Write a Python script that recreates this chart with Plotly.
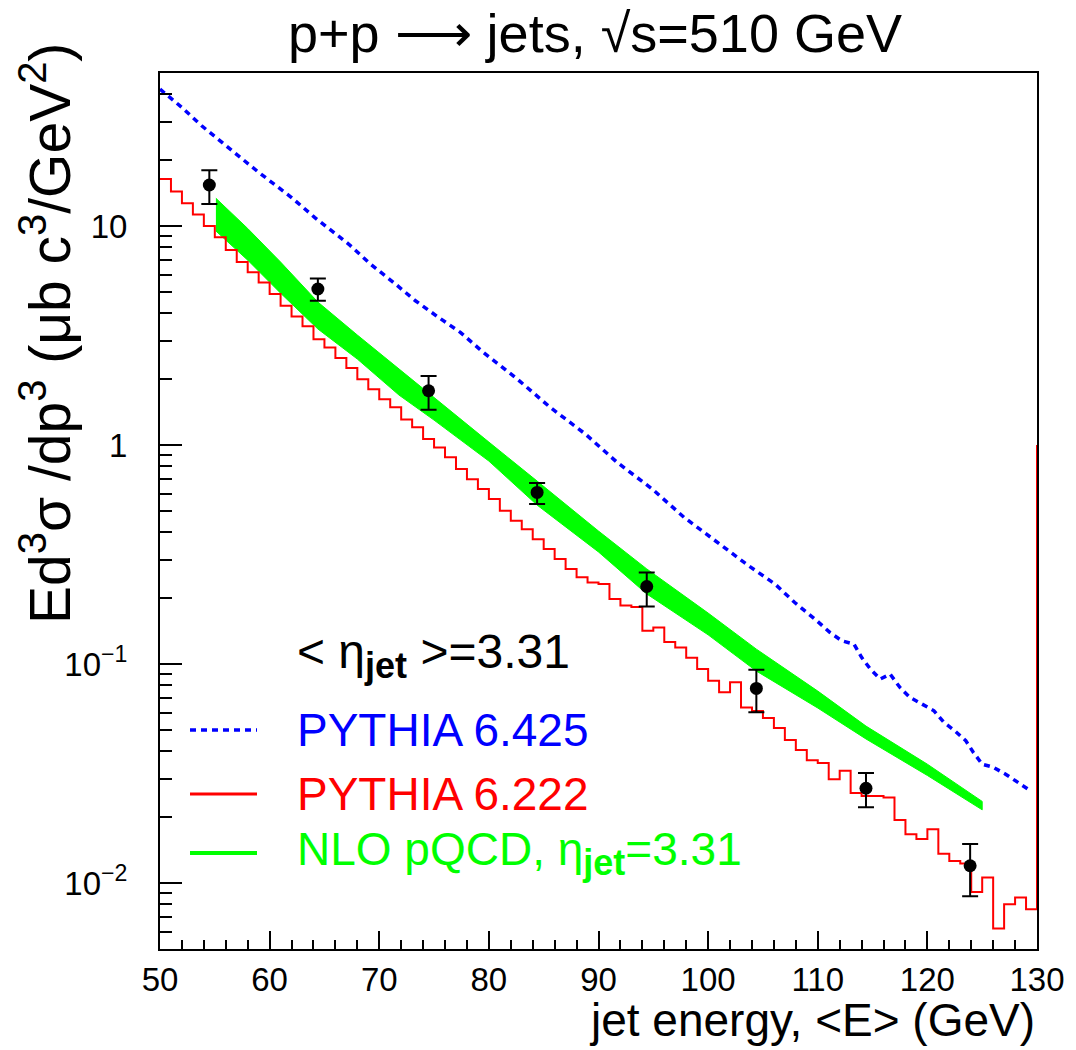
import math
import plotly.graph_objects as go

# ---------------- data ----------------
# measured points
data_E = [54.5, 64.4, 74.5, 84.4, 94.4, 104.4, 114.4, 123.9]
data_val = [15.4, 5.16, 1.77, 0.608, 0.226, 0.0774, 0.0271, 0.0120]
data_hi = [18.0, 5.77, 2.07, 0.671, 0.262, 0.0942, 0.0318, 0.0151]
data_lo = [12.6, 4.56, 1.45, 0.538, 0.183, 0.0602, 0.0222, 0.0087]

# PYTHIA 6.222 histogram, 1 GeV bins, low edges 50..129
p6222_edges = list(range(50, 130))
p6222_val = [16.4, 14.4, 12.7, 11.3, 10.0, 8.88, 7.77, 6.85, 6.15, 5.53,
             4.89, 4.33, 3.86, 3.49, 3.04, 2.79, 2.50, 2.25, 2.00, 1.80,
             1.62, 1.49, 1.31, 1.205, 1.065, 0.976, 0.879, 0.777, 0.699, 0.630,
             0.567, 0.501, 0.451, 0.413, 0.372, 0.335, 0.302, 0.272, 0.249, 0.236,
             0.232, 0.198, 0.185, 0.182, 0.142, 0.147, 0.126, 0.119, 0.107, 0.0949,
             0.0839, 0.0743, 0.0825, 0.0634, 0.0610, 0.0567, 0.0510, 0.0450, 0.0405, 0.0364,
             0.0353, 0.0298, 0.0326, 0.0258, 0.0250, 0.0250, 0.0246, 0.0194, 0.0167, 0.0159,
             0.0176, 0.0136, 0.0126, 0.0123, 0.0091, 0.0106, 0.0062, 0.0080, 0.0086, 0.0076]
p6222_upper_edge = 130
p6222_end_value = 1.0

# PYTHIA 6.425 curve
p6425_E = [50.0, 52.0, 53.8, 56.9, 59.0, 62.0, 64.1, 67.2, 69.2, 71.3,
           73.3, 75.4, 77.4, 79.5, 81.5, 82.6, 85.6, 88.8, 91.7, 94.9,
           97.8, 100.8, 103.7, 106.1, 107.9, 109.9, 111.1, 112.2, 113.3, 114.0,
           114.8, 115.7, 116.6, 117.5, 118.4, 119.5, 120.6, 121.5, 122.5, 123.5,
           124.2, 125.0, 126.0, 127.1, 128.0, 129.4]
p6425_val = [42.2, 34.8, 28.7, 21.3, 17.6, 13.5, 10.96, 8.28, 6.71, 5.53,
             4.56, 3.83, 3.27, 2.65, 2.22, 2.00, 1.486, 1.123, 0.834, 0.630,
             0.468, 0.359, 0.281, 0.232, 0.191, 0.158, 0.1395, 0.1277, 0.1234, 0.1073,
             0.0949, 0.0854, 0.0900, 0.0782, 0.0705, 0.0657, 0.0612, 0.0542, 0.0496, 0.0447,
             0.0395, 0.0349, 0.0338, 0.0315, 0.0293, 0.0264]

# NLO pQCD band
nlo_E = [55.1, 58, 61, 64.4, 68, 71.8, 75, 80, 84.4, 90, 94.4, 100, 104.4, 110, 114.4, 120, 125]
nlo_hi = [13.4, 9.75, 6.85, 4.50, 3.18, 2.22, 1.656, 1.032, 0.685, 0.405,
          0.272, 0.171, 0.117, 0.0753, 0.0521, 0.0349, 0.0236]
nlo_lo = [9.49, 6.99, 4.94, 3.39, 2.47, 1.692, 1.30, 0.845, 0.532, 0.325,
          0.209, 0.136, 0.0929, 0.0630, 0.0455, 0.0310, 0.0216]

y_major = [0.01, 0.1, 1, 10]
y_major_text = ["10<sup>\u22122</sup>", "10<sup>\u22121</sup>", "1", "10"]
y_minor = [0.006, 0.007, 0.008, 0.009,
           0.02, 0.03, 0.04, 0.05, 0.06, 0.07, 0.08, 0.09,
           0.2, 0.3, 0.4, 0.5, 0.6, 0.7, 0.8, 0.9,
           2, 3, 4, 5, 6, 7, 8, 9, 20, 30, 40]

# ---------------- figure ----------------
W, H = 1076, 1050
L, R, T, B = 160, 39, 73, 101
PW, PH = W - L - R, H - T - B


def px(x):
    return (x - L) / PW


def py(y):
    return (H - B - y) / PH


FONT = "Liberation Sans, Arial, Helvetica, sans-serif"
fig = go.Figure()

fig.add_trace(go.Scatter(
    x=nlo_E + nlo_E[::-1], y=nlo_hi + nlo_lo[::-1],
    mode="lines", fill="toself", fillcolor="#00ff00",
    line=dict(color="#00ff00", width=1), hoverinfo="skip"))

fig.add_trace(go.Scatter(
    x=p6222_edges + [p6222_upper_edge, p6222_upper_edge],
    y=p6222_val + [p6222_val[-1], p6222_end_value],
    mode="lines", line=dict(color="#ff0000", width=2, shape="hv")))

fig.add_trace(go.Scatter(
    x=p6425_E, y=p6425_val, mode="lines",
    line=dict(color="#0000ff", width=3.5, dash="6px,5px")))

fig.add_trace(go.Scatter(
    x=data_E, y=data_val, mode="markers",
    marker=dict(color="black", size=13, symbol="circle"),
    error_y=dict(type="data", symmetric=False,
                 array=[h - v for h, v in zip(data_hi, data_val)],
                 arrayminus=[v - l for v, l in zip(data_val, data_lo)],
                 color="black", thickness=2, width=8)))

fig.update_layout(
    width=W, height=H, margin=dict(l=L, r=R, t=T, b=B, pad=0),
    paper_bgcolor="white", plot_bgcolor="white", showlegend=False,
    font=dict(family=FONT, color="black"))

fig.update_xaxes(
    range=[50, 130], tick0=50, dtick=10, ticks="inside", ticklen=18,
    tickwidth=2, tickcolor="black", showline=True, linewidth=2,
    linecolor="black", mirror=True, showgrid=False, zeroline=False,
    tickfont=dict(size=33, family=FONT), ticklabelstandoff=0,
    minor=dict(dtick=2, ticks="inside", ticklen=9, tickwidth=2,
               tickcolor="black", showgrid=False))

fig.update_yaxes(
    type="log", range=[math.log10(0.005), math.log10(50)],
    tickmode="array", tickvals=y_major, ticktext=y_major_text,
    ticks="inside", ticklen=22, tickwidth=2, tickcolor="black",
    showline=True, linewidth=2, linecolor="black", mirror=True,
    showgrid=False, zeroline=False, tickfont=dict(size=33, family=FONT),
    ticklabelstandoff=24,
    minor=dict(tickmode="array", tickvals=y_minor, ticks="inside",
               ticklen=12, tickwidth=2, tickcolor="black", showgrid=False))

ann = []
ann.append(dict(text="p+p \u27f6 jets, \u221as=510 GeV", x=px(595), y=py(33),
                xref="paper", yref="paper", showarrow=False,
                xanchor="center", yanchor="middle", font=dict(size=54)))
ann.append(dict(text="jet energy, &lt;E&gt; (GeV)", x=px(1037), y=py(1020),
                xref="paper", yref="paper", showarrow=False,
                xanchor="right", yanchor="middle", font=dict(size=46)))
ann.append(dict(text="Ed<sup>3</sup>\u03c3 /dp<sup>3</sup> (\u03bcb c<sup>3</sup>/GeV<sup>2</sup>)",
                x=px(46), y=py(334), xref="paper", yref="paper",
                showarrow=False, textangle=-90, xanchor="center",
                yanchor="middle", font=dict(size=57)))

leg_font = 46
SUB = "<sub><span style=\"font-size:36px\"><b>jet</b></span></sub>"
ann.append(dict(text="&lt; \u03b7" + SUB + " &gt;=3.31", x=px(295), y=py(655),
                xref="paper", yref="paper", showarrow=False,
                xanchor="left", yanchor="middle",
                font=dict(size=leg_font + 2, color="black")))
legend_rows = [("PYTHIA 6.425", "#0000ff", 730, "6px,5px", 3.5),
               ("PYTHIA 6.222", "#ff0000", 794, "solid", 3),
               ("NLO pQCD, \u03b7" + SUB + "=3.31", "#00ff00", 853, "solid", 4)]
shapes = []
for txt, col, yy, dash, lw in legend_rows:
    ann.append(dict(text=txt, x=px(295), y=py(yy), xref="paper", yref="paper",
                    showarrow=False, xanchor="left", yanchor="middle",
                    font=dict(size=leg_font, color=col)))
    shapes.append(dict(type="line", xref="paper", yref="paper",
                       x0=px(190), x1=px(257), y0=py(yy), y1=py(yy),
                       line=dict(color=col, width=lw, dash=dash)))

fig.update_layout(annotations=ann, shapes=shapes)
fig.write_html("out.html")
